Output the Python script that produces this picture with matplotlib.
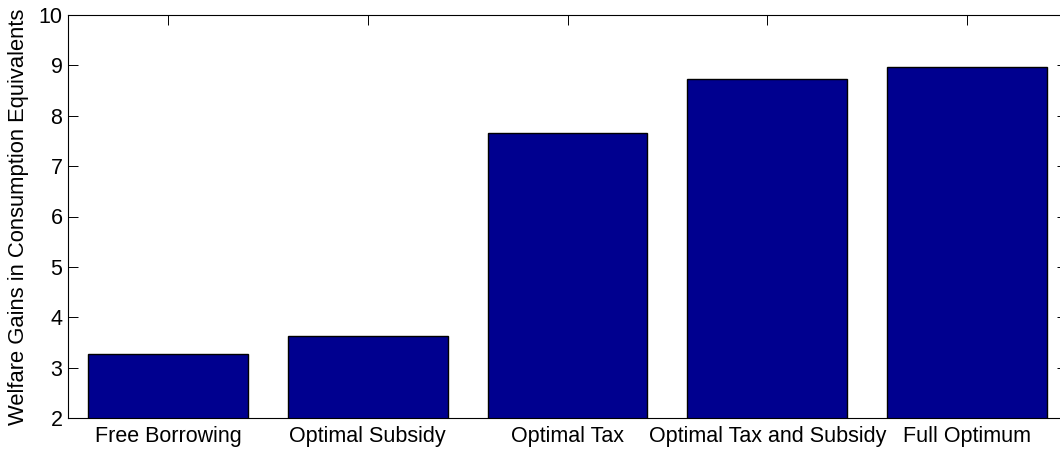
import matplotlib
matplotlib.use("Agg")
import matplotlib.pyplot as plt

categories = ["Free Borrowing", "Optimal Subsidy", "Optimal Tax",
              "Optimal Tax and Subsidy", "Full Optimum"]
values = [3.28, 3.62, 7.65, 8.72, 8.97]
yticks = [2, 3, 4, 5, 6, 7, 8, 9, 10]

plt.rcParams['font.family'] = ['Liberation Sans', 'DejaVu Sans']

W, H = 1060, 450
fig = plt.figure(figsize=(W / 100, H / 100), dpi=100)
left, right, top, bottom = 68, 1067, 15, 418
ax = fig.add_axes([left / W, (H - bottom) / H, (right - left) / W, (bottom - top) / H])

x = list(range(1, len(categories) + 1))
ax.bar(x, values, width=0.8, bottom=0, color='#00008F', edgecolor='black',
       linewidth=1.0, zorder=2)
ax.set_xlim(0.5, len(categories) + 0.5)
ax.set_ylim(2, 10)
ax.set_yticks(yticks)
ax.set_yticklabels([str(v) for v in yticks])
ax.set_xticks(x)
ax.set_xticklabels(categories)

ax.tick_params(axis='both', direction='in', length=7.5, width=0.7,
               top=True, right=True, labelsize=15.5, colors='black')
ax.tick_params(axis='y', pad=4)
ax.tick_params(axis='x', pad=6)
for s in ax.spines.values():
    s.set_linewidth(0.8)
    s.set_color('black')
    s.set_zorder(3)

ax.set_ylabel("Welfare Gains in Consumption Equivalents", fontsize=15.8)
ax.yaxis.set_label_coords(-(68 - 29) / (right - left), 0.5)

fig.savefig("out.png", dpi=100)
